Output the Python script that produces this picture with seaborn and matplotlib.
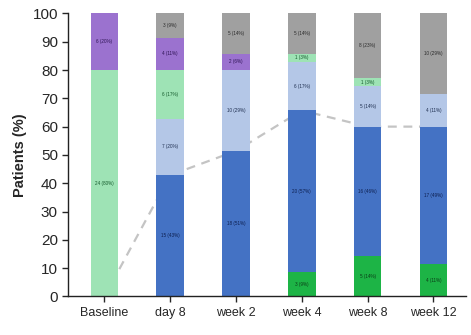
import numpy as np
import pandas as pd
import matplotlib
matplotlib.use('Agg')
import matplotlib.pyplot as plt
import seaborn as sns

sns.set_style('white')
plt.rcParams['font.family'] = ['Liberation Sans', 'DejaVu Sans']

# visits
visits = ['Baseline', 'day 8', 'week 2', 'week 4', 'week 8', 'week 12']
totals = [30, 35, 35, 35, 35, 35]

# patient counts per response group (bottom -> top)
n_dark_green = [0, 0, 0, 3, 5, 4]
n_blue = [0, 15, 18, 20, 16, 17]
n_light_blue = [0, 7, 10, 6, 5, 4]
n_light_green = [24, 6, 0, 1, 1, 0]
n_purple = [6, 4, 2, 0, 0, 0]
n_gray = [0, 3, 5, 5, 8, 10]

groups = [
    (n_dark_green, '#1DB446', '#0B3D17'),
    (n_blue, '#4472C4', '#0D1F4F'),
    (n_light_blue, '#B4C7E7', '#1F2F50'),
    (n_light_green, '#9EE3B5', '#145A2C'),
    (n_purple, '#9B72CF', '#2E1454'),
    (n_gray, '#A0A0A0', '#2A2A2A'),
]

fig, ax = plt.subplots(figsize=(4.71, 3.35), dpi=100)

# dashed line: share of dark green + blue
resp = [(g + b) / t * 100 for g, b, t in zip(n_dark_green, n_blue, totals)]
ax.plot(range(len(visits)), resp, ls=(0, (4, 3)), color='#C4C4C4', lw=1.6, zorder=1)

bottom = np.zeros(len(visits))
for counts, color, tcol in groups:
    pct = np.array([c / t * 100 for c, t in zip(counts, totals)])
    df = pd.DataFrame({'visit': visits, 'pct': pct})
    sns.barplot(data=df, x='visit', y='pct', bottom=bottom, color=color,
                width=0.42, saturation=1, linewidth=0, edgecolor=color,
                ax=ax, zorder=2)
    for i, (c, p) in enumerate(zip(counts, pct)):
        if c > 0:
            ax.text(i, bottom[i] + p / 2, f'{c} ({p:.0f}%)', ha='center',
                    va='center', fontsize=3.3, color=tcol, zorder=3)
    bottom = bottom + pct

ax.set_ylim(0, 100)
ax.set_yticks(range(0, 101, 10))
ax.set_xlim(-0.55, 5.5)
ax.set_xlabel('')
ax.set_ylabel('Patients (%)', fontsize=10.5, fontweight='bold')
ax.tick_params(axis='y', labelsize=11, length=4, width=1, left=True)
ax.tick_params(axis='x', labelsize=9, length=4, width=1, bottom=True)
sns.despine(ax=ax)
for s in ['left', 'bottom']:
    ax.spines[s].set_color('#222222')
    ax.spines[s].set_linewidth(1)

fig.subplots_adjust(left=0.145, right=0.99, top=0.96, bottom=0.115)
fig.savefig('out.png', dpi=100)
